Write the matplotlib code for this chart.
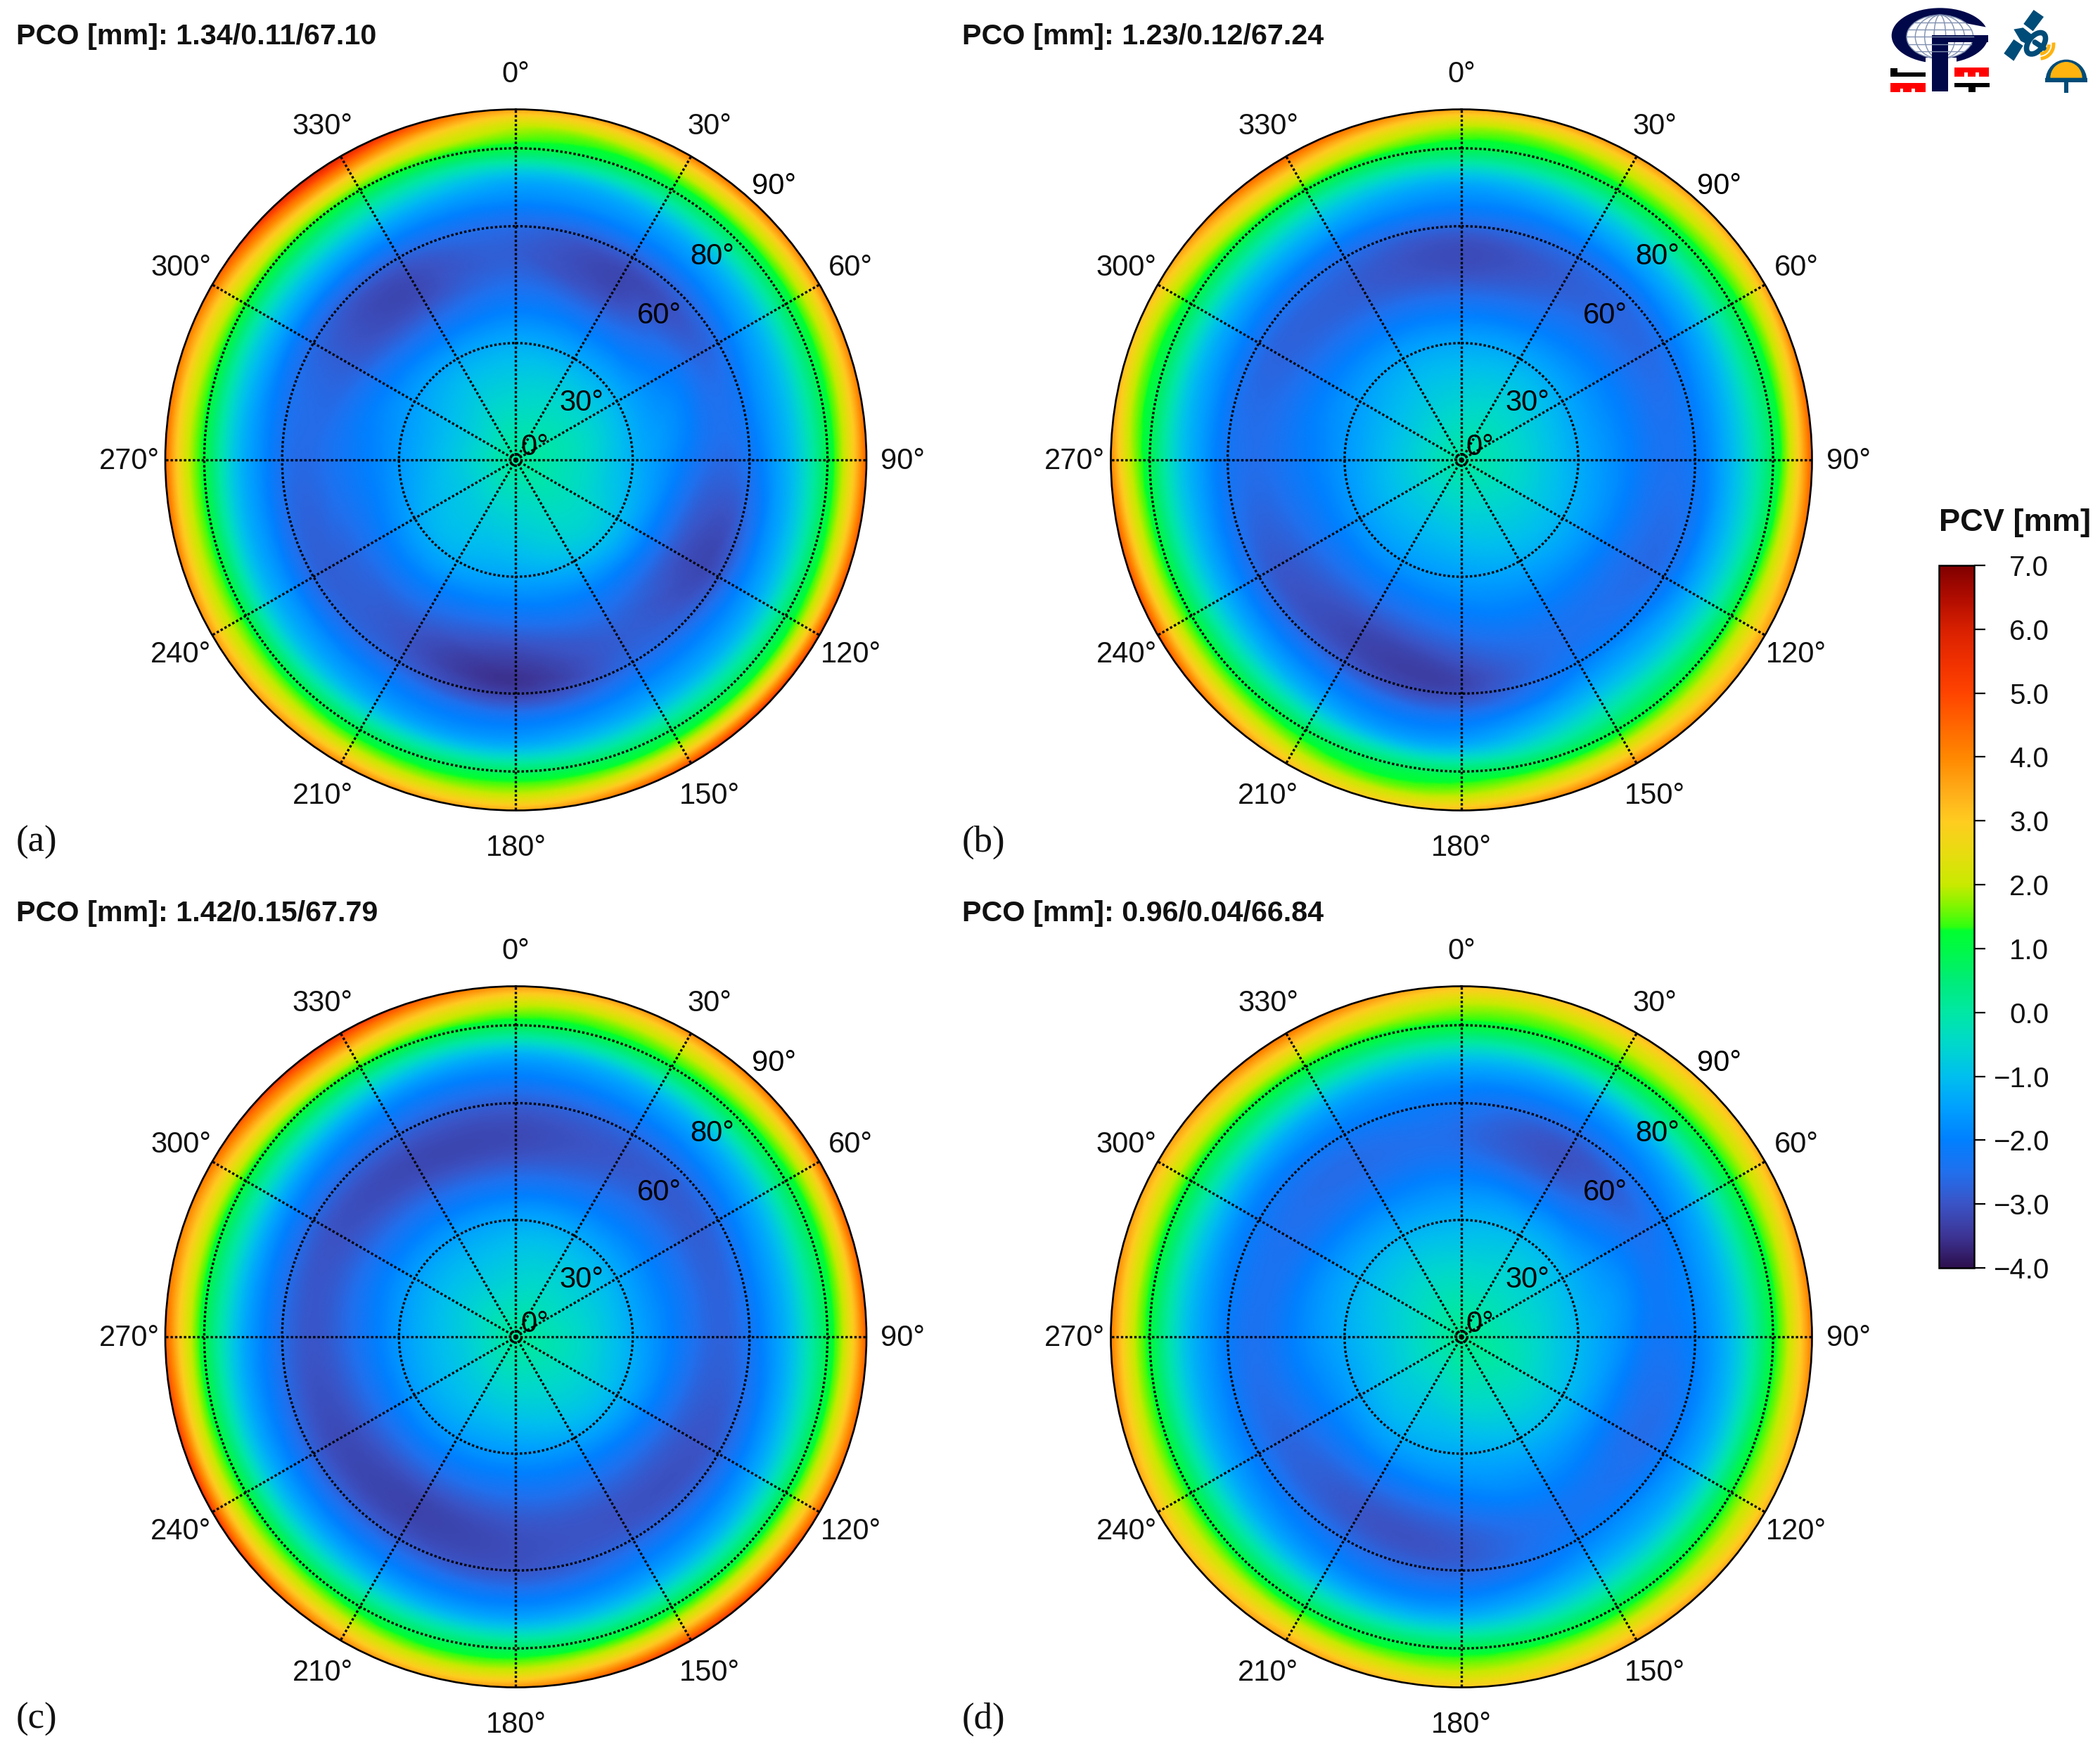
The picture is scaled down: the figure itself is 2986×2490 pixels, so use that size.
import numpy as np
import matplotlib
matplotlib.use("Agg")
import matplotlib.pyplot as plt
import matplotlib.tri as mtri
from matplotlib.colors import LinearSegmentedColormap, Normalize
from matplotlib.cm import ScalarMappable
from matplotlib.patches import Ellipse, Rectangle, Wedge, Polygon, Arc

plt.rcParams['font.family'] = ['Liberation Sans', 'DejaVu Sans']

# ---------------- data ----------------
azimuths = [0, 30, 60, 90, 120, 150, 180, 210, 240, 270, 300, 330]
zeniths = [0, 15, 30, 45, 55, 62, 68, 74, 80, 85, 90]

pcv_a = [
    [0.2] * 12,
    [-0.5, -0.4, -0.3, -0.3, -0.3, -0.4, -0.6, -0.7, -0.8, -0.8, -0.8, -0.6],
    [-1.3, -1.3, -1.2, -1.2, -1.0, -1.1, -1.4, -1.3, -1.4, -1.6, -1.5, -1.4],
    [-2.5, -2.8, -2.1, -2.2, -2.7, -2.5, -2.8, -2.6, -2.5, -2.3, -2.6, -2.9],
    [-2.8, -3.2, -2.7, -2.6, -3.2, -2.8, -3.5, -3.0, -2.8, -2.6, -2.8, -3.1],
    [-2.4, -2.5, -2.2, -2.1, -2.6, -2.4, -3.0, -2.5, -2.4, -2.2, -2.4, -2.4],
    [-1.7, -1.7, -1.5, -1.4, -1.7, -1.7, -2.0, -1.8, -1.6, -1.5, -1.5, -1.5],
    [-0.8, -0.8, -0.6, -0.5, -0.8, -0.8, -1.1, -0.9, -0.7, -0.5, -0.4, -0.3],
    [1.0, 0.8, 0.8, 0.9, 0.7, 0.7, 0.7, 0.8, 1.0, 1.1, 1.2, 1.3],
    [1.9, 2.0, 2.0, 2.3, 2.1, 2.1, 1.8, 2.0, 2.1, 2.3, 2.6, 3.2],
    [3.6, 4.2, 4.0, 4.6, 5.0, 5.0, 3.5, 4.0, 3.8, 4.5, 4.5, 5.8],
]
pcv_b = [
    [0.1] * 12,
    [-0.6, -0.5, -0.5, -0.5, -0.5, -0.6, -0.7, -0.8, -0.8, -0.8, -0.8, -0.7],
    [-1.4, -1.3, -1.3, -1.3, -1.2, -1.3, -1.5, -1.6, -1.6, -1.6, -1.5, -1.4],
    [-2.8, -2.5, -2.2, -2.1, -2.2, -2.2, -2.5, -2.8, -2.6, -2.3, -2.4, -2.6],
    [-3.1, -2.8, -2.6, -2.4, -2.6, -2.4, -3.2, -3.2, -2.9, -2.5, -2.7, -2.8],
    [-2.4, -2.3, -2.1, -2.0, -2.1, -1.9, -2.9, -2.6, -2.3, -2.1, -2.2, -2.3],
    [-1.7, -1.5, -1.4, -1.3, -1.3, -1.2, -2.0, -1.8, -1.5, -1.4, -1.5, -1.5],
    [-0.7, -0.5, -0.4, -0.4, -0.3, -0.2, -1.1, -0.8, -0.4, -0.5, -0.5, -0.5],
    [0.9, 1.0, 0.9, 0.8, 1.1, 1.0, 0.7, 0.8, 1.1, 0.9, 0.9, 1.1],
    [1.8, 2.0, 1.9, 2.3, 2.3, 2.3, 1.7, 1.8, 2.4, 2.0, 1.9, 2.6],
    [3.6, 3.8, 3.7, 4.7, 3.7, 4.2, 3.3, 3.3, 4.8, 4.0, 3.4, 4.6],
]
pcv_c = [
    [0.2] * 12,
    [-0.6, -0.5, -0.5, -0.4, -0.4, -0.5, -0.6, -0.7, -0.8, -0.8, -0.7, -0.7],
    [-1.4, -1.3, -1.3, -1.3, -1.2, -1.4, -1.6, -1.6, -1.6, -1.6, -1.5, -1.5],
    [-2.9, -2.6, -2.4, -2.4, -2.6, -2.7, -2.8, -3.0, -2.9, -2.7, -2.7, -2.9],
    [-3.1, -2.9, -2.8, -2.7, -3.0, -3.0, -3.1, -3.2, -3.1, -2.9, -3.0, -3.1],
    [-2.6, -2.4, -2.2, -2.1, -2.5, -2.5, -2.8, -2.6, -2.5, -2.3, -2.4, -2.5],
    [-1.9, -1.7, -1.5, -1.4, -1.7, -1.8, -2.0, -1.8, -1.7, -1.6, -1.6, -1.8],
    [-0.9, -0.7, -0.5, -0.4, -0.7, -0.8, -1.0, -0.7, -0.6, -0.5, -0.4, -0.6],
    [0.9, 1.0, 0.9, 0.9, 0.9, 0.9, 0.7, 0.9, 1.1, 1.0, 1.1, 1.2],
    [2.0, 2.1, 2.1, 2.3, 2.4, 2.5, 1.9, 2.1, 2.5, 2.5, 2.6, 3.0],
    [3.8, 4.0, 4.5, 4.7, 4.7, 5.2, 3.8, 4.0, 5.3, 4.6, 4.4, 5.3],
]
pcv_d = [
    [0.3] * 12,
    [-0.4, -0.4, -0.4, -0.3, -0.2, -0.3, -0.4, -0.6, -0.6, -0.6, -0.5, -0.4],
    [-1.2, -1.1, -1.1, -1.1, -1.0, -1.1, -1.3, -1.3, -1.4, -1.3, -1.2, -1.2],
    [-2.3, -2.6, -2.0, -2.0, -2.2, -2.0, -2.4, -2.6, -2.4, -2.1, -2.2, -2.3],
    [-2.5, -3.0, -2.4, -2.2, -2.5, -2.3, -2.9, -2.9, -2.6, -2.4, -2.4, -2.5],
    [-2.1, -2.3, -1.9, -1.8, -1.9, -1.9, -2.5, -2.3, -2.0, -1.9, -2.0, -2.0],
    [-1.5, -1.6, -1.3, -1.2, -1.3, -1.3, -1.8, -1.7, -1.4, -1.3, -1.3, -1.4],
    [-0.4, -0.4, -0.2, -0.2, -0.2, -0.3, -0.7, -0.6, -0.3, -0.3, -0.2, -0.2],
    [1.1, 1.1, 1.1, 1.1, 1.2, 1.0, 0.9, 0.9, 1.1, 1.1, 1.1, 1.2],
    [1.9, 2.0, 2.1, 2.3, 2.1, 2.1, 1.8, 2.1, 2.1, 2.3, 2.2, 2.5],
    [3.2, 3.3, 3.5, 4.2, 3.4, 3.7, 3.0, 3.7, 3.4, 4.2, 3.6, 4.3],
]
panel_values = [pcv_a, pcv_b, pcv_c, pcv_d]
panel_titles = ['PCO [mm]: 1.34/0.11/67.10', 'PCO [mm]: 1.23/0.12/67.24',
                'PCO [mm]: 1.42/0.15/67.79', 'PCO [mm]: 0.96/0.04/66.84']
panel_letters = ['(a)', '(b)', '(c)', '(d)']
azimuth_labels = [0, 30, 60, 90, 120, 150, 180, 210, 240, 270, 300, 330]
ring_ticks = [1.5, 30, 60, 80]
ring_labels = [('0°', 52, 6.1), ('30°', 48, 22.7), ('60°', 44.5, 52.6),
               ('80°', 43.7, 72.9), ('90°', 43.1, 96.9)]
cbar_ticks = [7, 6, 5, 4, 3, 2, 1, 0, -1, -2, -3, -4]
cbar_stops = [(-4.0, '#2d0f4e'), (-3.5, '#3d3596'), (-3.0, '#3a54c6'), (-2.5, '#2070ee'),
              (-2.0, '#0080ff'), (-1.5, '#00a0ff'), (-1.0, '#00bfee'), (-0.5, '#00d8cc'),
              (0.0, '#00e8a4'), (0.5, '#00ec78'), (0.95, '#00f84a'), (1.28, '#00ff30'),
              (1.34, '#30ff10'), (1.7, '#88f400'), (2.0, '#c8ea00'), (2.5, '#e8dc10'),
              (3.0, '#ffcc20'), (3.5, '#ffaa18'), (4.0, '#ff8800'), (4.5, '#ff6600'),
              (5.0, '#ff4400'), (5.5, '#f03000'), (6.0, '#d82000'), (6.5, '#b00c00'),
              (7.0, '#800000')]

# ---------------- layout (pixels of the 2986x2490 canvas) ----------------
W, H = 2986, 2490
DPI = 100
fig = plt.figure(figsize=(W / DPI, H / DPI), dpi=DPI, facecolor='white')
centers = [(733.5, 654), (2078, 654), (733.5, 1901), (2078, 1901)]
R = 498.5
title_pos = [(23, 52), (1368, 52), (23, 1299), (1368, 1299)]
letter_pos = [(23, 1198), (1368, 1198), (23, 2445), (1368, 2445)]

vmin, vmax = -4.0, 7.0
cmap = LinearSegmentedColormap.from_list(
    'pcv', [((v - vmin) / (vmax - vmin), c) for v, c in cbar_stops], N=512)
norm = Normalize(vmin, vmax)

# Smooth surface through the read values (periodic in azimuth)
az = np.array(azimuths, float)
zen = np.array(zeniths, float)
az_wrap = np.concatenate([az[-3:] - 360, az, az[:4] + 360])
TH, RR = np.meshgrid(az_wrap, zen)
n_r, n_t = TH.shape
tris = []
for i in range(n_r - 1):
    for j in range(n_t - 1):
        a = i * n_t + j
        tris += [[a, a + 1, a + n_t], [a + 1, a + n_t + 1, a + n_t]]
tri = mtri.Triangulation(TH.ravel(), RR.ravel(), np.array(tris))
fine_az = np.arange(0, 360.5, 1.0)
fine_r = np.arange(0, 90.25, 0.5)
FA, FR = np.meshgrid(fine_az, fine_r)


def field(values):
    v = np.array(values, float)
    v_wrap = np.hstack([v[:, -3:], v, v[:, :4]])
    interp = mtri.CubicTriInterpolator(tri, v_wrap.ravel(), kind='min_E')
    return np.ma.filled(interp(FA, np.clip(FR, 1e-6, 90 - 1e-6)), np.nan)


for k, values in enumerate(panel_values):
    cx, cy = centers[k]
    ax = fig.add_axes([(cx - R) / W, 1 - (cy + R) / H, 2 * R / W, 2 * R / H],
                      projection='polar')
    ax.set_theta_zero_location('N')
    ax.set_theta_direction(-1)
    ax.pcolormesh(np.deg2rad(FA), FR, field(values), cmap=cmap, norm=norm,
                  shading='gouraud', rasterized=True)
    ax.set_rlim(0, 90)
    ax.set_axisbelow(False)
    ax.set_thetagrids(azimuth_labels, labels=[''] * len(azimuth_labels))
    ax.set_rgrids(ring_ticks, labels=[''] * len(ring_ticks))
    ax.grid(True, color='black', lw=2.4, linestyle=(0, (1, 0.9)))
    for gl in ax.get_xgridlines() + ax.get_ygridlines():
        gl.set_dash_capstyle('butt')
    ax.spines['polar'].set_linewidth(1.9)
    ax.spines['polar'].set_color('black')
    ax.plot([0], [0], 'o', color='black', ms=3.5, zorder=6, clip_on=False)
    for a in azimuth_labels:
        ax.annotate(f'{a}°', (np.deg2rad(a), 99.3), xytext=(0, -1.5), textcoords='offset points',
                    ha='center', va='center', fontsize=30, color='#111111',
                    annotation_clip=False)
    for lab, a, r in ring_labels:
        ax.annotate(lab, (np.deg2rad(a), r), xytext=(0, -2.2), textcoords='offset points',
                    ha='center', va='center', fontsize=30, color='black',
                    annotation_clip=False, zorder=7)
    fig.text(title_pos[k][0] / W, 1 - title_pos[k][1] / H, panel_titles[k],
             fontsize=29.7, fontweight='bold', ha='left', va='center', color='#111111')
    fig.text(letter_pos[k][0] / W, 1 - letter_pos[k][1] / H, panel_letters[k],
             fontsize=38, family=['Liberation Serif'], ha='left', va='center', color='#111111')

# ---------------- colour bar ----------------
cax = fig.add_axes([2757 / W, 1 - 1803 / H, 50 / W, 999 / H])
cb = fig.colorbar(ScalarMappable(norm=norm, cmap=cmap), cax=cax, orientation='vertical')
cb.set_ticks(cbar_ticks)
cb.set_ticklabels([f'{v:.1f}'.replace('-', '\u2212') for v in cbar_ticks])
cax.tick_params(axis='y', length=11.5, width=1.6, pad=65, labelsize=29, direction='out',
                labelcolor='#111111')
for t in cax.get_yticklabels():
    t.set_ha('right')
cb.outline.set_linewidth(1.8)
fig.text(2865 / W, 1 - 743 / H, 'PCV [mm]', fontsize=32.6, fontweight='bold',
         ha='center', va='center', color='#111111')

# ---------------- logo (coordinates = zoom crop pixels, 3x) ----------------
lg = fig.add_axes([2600 / W, 1 - 160 / H, 386 / W, 160 / H])
lg.set_xlim(0, 1158)
lg.set_ylim(480, 0)
lg.axis('off')
navy = '#00084a'
sat = '#004c78'
gold = '#ffb30f'
lg.add_patch(Ellipse((475, 152), 412, 236, color=navy, lw=0))
lg.add_patch(Ellipse((475, 157), 284, 186, color='white', lw=0))
lg.add_patch(Polygon([[590, 100], [668, 115], [700, 115], [700, 150], [610, 150]], color='white', lw=0))
lg.add_patch(Rectangle((415, 245), 130, 30, color='white', lw=0))
for w in [284, 210, 130, 50]:
    lg.add_patch(Ellipse((475, 157), w, 186, fill=False, ec='#8090b0', lw=1.0))
for y in [95, 125, 157, 190, 220]:
    half = 142 * np.sqrt(max(0, 1 - ((y - 157) / 93) ** 2))
    lg.plot([475 - half, 475 + half], [y, y], color='#8090b0', lw=1.0)
lg.add_patch(Rectangle((440, 155), 70, 235, color=navy, lw=0))
lg.add_patch(Rectangle((440, 150), 240, 30, color=navy, lw=0))
for (x, y, w, h, c) in [(263, 290, 30, 36, 'black'), (263, 310, 150, 16, 'black'),
                        (263, 355, 150, 38, 'red'), (537, 288, 148, 38, 'red'),
                        (537, 355, 150, 16, 'black'), (597, 355, 30, 38, 'black')]:
    lg.add_patch(Rectangle((x, y), w, h, color=c, lw=0))
for (x, y, w, h) in [(305, 378, 14, 16), (355, 378, 14, 16),
                     (579, 310, 14, 16), (627, 310, 14, 16)]:
    lg.add_patch(Rectangle((x, y), w, h, color='white', lw=0))
lg.add_patch(Polygon([[875, 42], [918, 72], [872, 133], [832, 102]], color=sat, lw=0, joinstyle='round'))
lg.add_patch(Polygon([[790, 168], [830, 195], [790, 260], [748, 228]], color=sat, lw=0, joinstyle='round'))
lg.add_patch(Polygon([[790, 125], [830, 118], [870, 150], [850, 190], [820, 175]], color=sat, lw=0))
lg.add_patch(Ellipse((885, 185), 62, 105, angle=38, fc='white', ec=sat, lw=5.5))
lg.plot([880, 918], [180, 205], color=sat, lw=5.5, solid_capstyle='round')
for (d, th1, th2) in [(80, 0, 85), (120, -8, 85)]:
    lg.add_patch(Arc((900, 190), d, d, theta1=th1, theta2=th2, color=gold, lw=3.5))
lg.add_patch(Wedge((1014, 342), 88, 180, 360, color=sat, lw=0))
lg.add_patch(Wedge((1014, 332), 68, 180, 360, color=gold, lw=0))
lg.add_patch(Rectangle((1004, 345), 20, 50, color=sat, lw=0))
lg.add_patch(Rectangle((925, 333), 180, 18, color=sat, lw=0))

fig.savefig('out.png', dpi=DPI, facecolor='white')
